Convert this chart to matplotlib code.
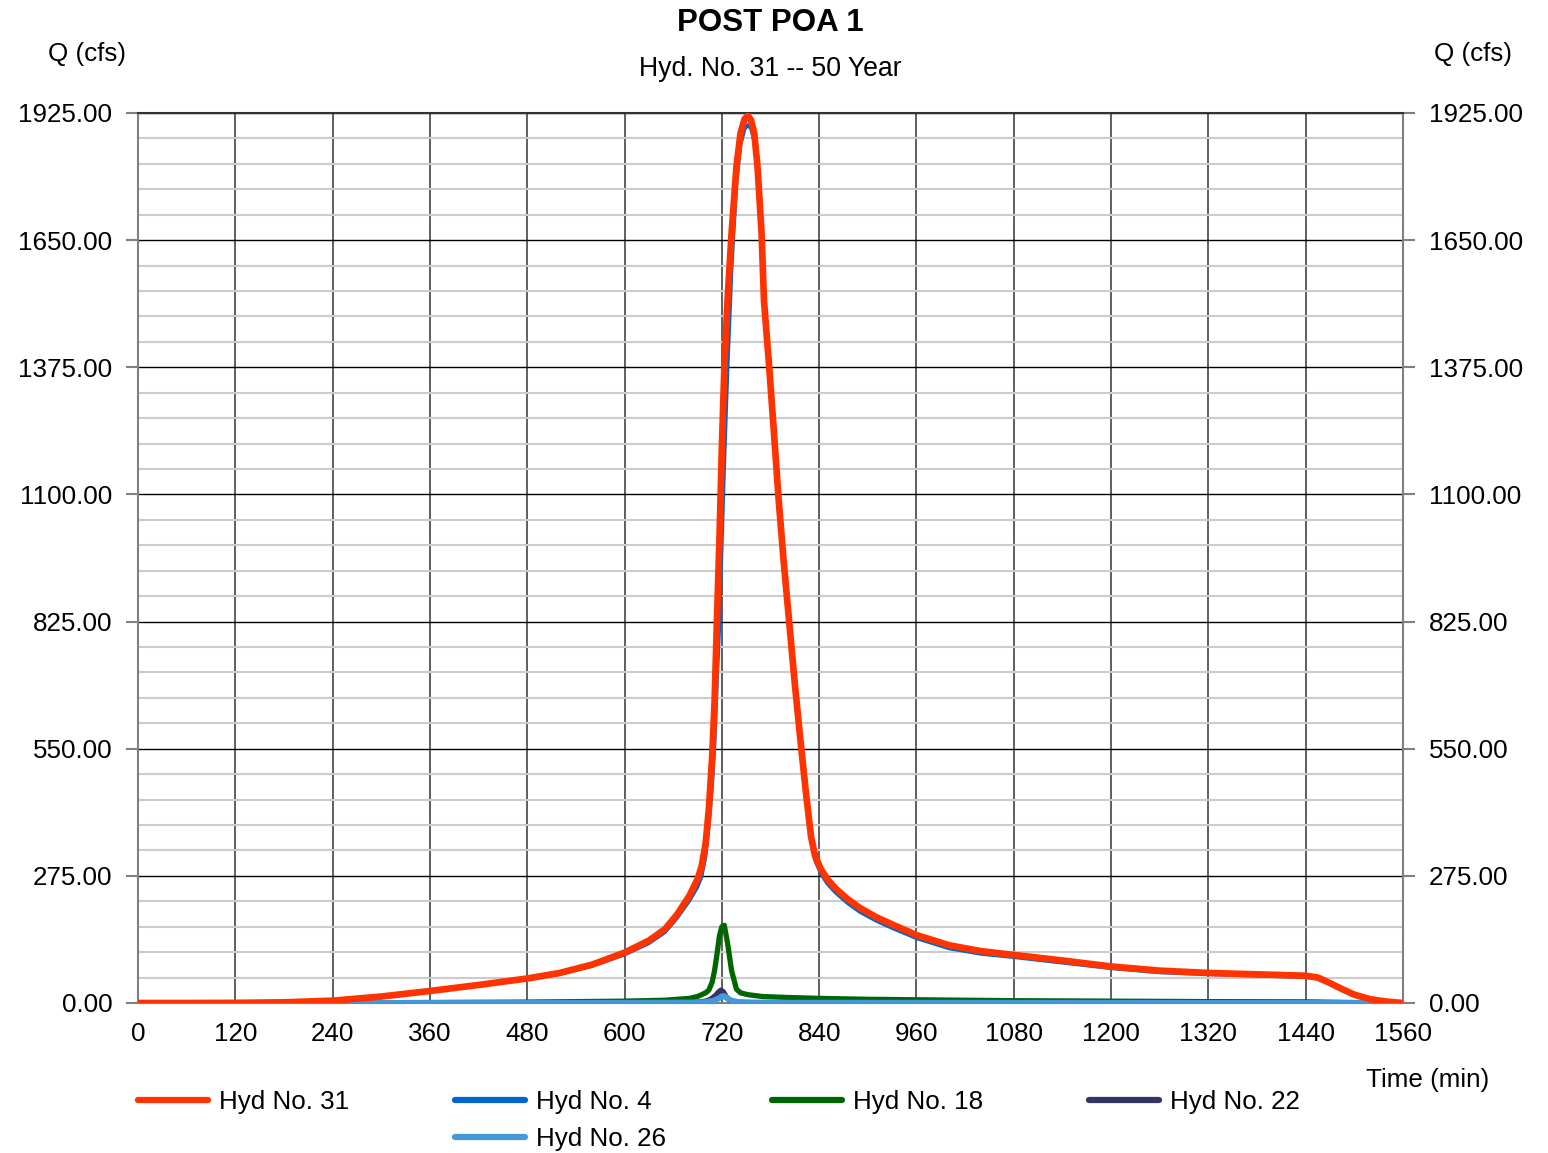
import numpy as np
import matplotlib
matplotlib.use("Agg")
import matplotlib.pyplot as plt
from matplotlib.ticker import MultipleLocator
from matplotlib.lines import Line2D

plt.rcParams["font.family"] = ["Liberation Sans", "DejaVu Sans"]

# time (min) for Hyd No. 31 and Hyd No. 4
t_main = [0, 60, 120, 180, 240, 300, 360, 420, 480, 520, 560, 600, 630, 650, 665,
          680, 690, 695, 700, 704, 708, 711, 714, 717, 720, 723, 727, 732, 738, 743,
          748, 752, 756, 760, 764, 769, 772, 778, 784, 790, 796, 803, 810, 818, 824,
          830, 835, 842, 850, 860, 875, 890, 910, 930, 960, 1000, 1040, 1080, 1140,
          1200, 1260, 1320, 1380, 1440, 1455, 1470, 1485, 1500, 1520, 1540, 1560]

# Hyd No. 31 (cfs)
q_31 = [0, 0, 0.3, 1.5, 5, 14, 26, 39, 53, 65, 83, 109, 135, 160, 192,
        232, 268, 295, 345, 420, 530, 650, 830, 1000, 1200, 1370, 1520, 1665, 1809, 1881,
        1912, 1919, 1910, 1881, 1809, 1665, 1518, 1385, 1240, 1090, 960, 825, 690, 550, 450,
        360, 318, 290, 268, 248, 225, 206, 186, 170, 147, 125, 112, 104, 92,
        79, 70, 65, 62, 59, 55, 43, 30, 18, 8, 3, 0]

# Hyd No. 4 (cfs)
q_4 = [0, 0, 0.3, 1.5, 4.7, 13.3, 25, 37.5, 51, 62.5, 80, 104.5, 129, 153, 184,
       221, 251, 273, 317, 383, 469, 558, 696, 817, 994, 1165, 1368, 1585, 1774, 1855,
       1890, 1899, 1891, 1863, 1792, 1649, 1503, 1371, 1227, 1077, 948, 813, 679, 539, 440,
       350, 308, 280, 258, 239, 216, 197, 178, 162, 140, 118, 106, 99, 87,
       75, 66, 62, 59, 56, 53, 41, 28, 17, 7, 2.7, 0]

# Hyd No. 18
t_18 = [0, 180, 240, 360, 480, 600, 650, 680, 690, 700, 704, 708, 711, 714, 717,
        720, 723, 727, 732, 738, 743, 752, 770, 800, 840, 900, 960, 1080, 1200, 1320,
        1440, 1500, 1560]
q_18 = [0, 0, 0.3, 1, 2, 4, 6, 10, 14, 22, 28, 45, 70, 105, 145,
        165, 168, 130, 70, 30, 22, 18, 14, 12, 10, 8, 7, 5, 4, 3,
        2.5, 1, 0]

# Hyd No. 22
t_22 = [0, 600, 690, 700, 706, 712, 716, 719, 722, 726, 730, 736, 745, 760, 800, 1560]
q_22 = [0, 0.5, 2, 4, 8, 16, 24, 28, 24, 12, 5, 2, 1, 0.5, 0.2, 0]

# Hyd No. 26
t_26 = [0, 600, 690, 700, 710, 716, 720, 723, 727, 732, 740, 760, 800, 1560]
q_26 = [0, 0.3, 1, 2, 5, 10, 14, 15, 10, 5, 2, 1, 0.5, 0]

x_ticks = list(range(0, 1561, 120))
y_ticks = [0, 275, 550, 825, 1100, 1375, 1650, 1925]

fig = plt.figure(figsize=(15.48, 11.53), dpi=100)
ax = fig.add_axes([138 / 1548, 150 / 1153, 1265 / 1548, 890 / 1153])

l4, = ax.plot(t_main, q_4, color="#0066cc", lw=2.6, zorder=3, solid_capstyle="round")
l18, = ax.plot(t_18, q_18, color="#006600", lw=3.8, zorder=4, solid_capstyle="round")
l22, = ax.plot(t_22, q_22, color="#333366", lw=3.8, zorder=5, solid_capstyle="round")
l26, = ax.plot(t_26, q_26, color="#4499dd", lw=4.3, zorder=6, solid_capstyle="round")
l31, = ax.plot(t_main, q_31, color="#ff3300", lw=4.8, zorder=7, solid_capstyle="round")

ax.set_xlim(0, 1560)
ax.set_ylim(0, 1925)
ax.set_xticks(x_ticks)
ax.set_yticks(y_ticks)
ax.set_yticklabels([f"{v:.2f}" for v in y_ticks])
ax.yaxis.set_minor_locator(MultipleLocator(55))

ax.grid(which="minor", axis="y", color="#cccccc", lw=1.5, zorder=0)
ax.grid(which="major", axis="y", color="black", lw=1.0, zorder=1)
ax.grid(which="major", axis="x", color="#444444", lw=1.2, zorder=1)
ax.set_axisbelow(True)

for s in ax.spines.values():
    s.set_color("#808080")
    s.set_linewidth(1.5)
ax.spines["top"].set_color("#333333")

ax.tick_params(axis="y", which="major", left=True, right=True, labelleft=True,
               labelright=True, length=8.5, width=1.5, color="#808080",
               labelsize=18.7, pad=10)
ax.tick_params(axis="y", which="minor", length=0)
ax.tick_params(axis="x", length=0, labelsize=18.7, pad=13.5)

fig.text(770 / 1548, 1 - 23 / 1153, "POST POA 1", ha="center", va="center",
         fontsize=22.5, fontweight="bold")
fig.text(770 / 1548, 1 - 69 / 1153, "Hyd. No. 31 -- 50 Year", ha="center",
         va="center", fontsize=19.2)
fig.text(87 / 1548, 1 - 54 / 1153, "Q (cfs)", ha="center", va="center", fontsize=18.7)
fig.text(1473 / 1548, 1 - 54 / 1153, "Q (cfs)", ha="center", va="center", fontsize=18.7)
fig.text(1428 / 1548, 1 - 1080 / 1153, "Time (min)", ha="center", va="center",
         fontsize=18.7)

blank = Line2D([], [], alpha=0)
handles = [l31, blank, l4, l26, l18, blank, l22, blank]
labels = ["Hyd No. 31", "", "Hyd No. 4", "Hyd No. 26", "Hyd No. 18", "", "Hyd No. 22", ""]
leg = fig.legend(handles, labels, ncol=4, loc="upper left",
                 bbox_to_anchor=(138 / 1548, 1 - 1090 / 1153), frameon=False,
                 fontsize=18.7, handlelength=2.7, handletextpad=0.4,
                 columnspacing=4.1, labelspacing=0.5, borderpad=0, borderaxespad=0)
for h in leg.legend_handles:
    h.set_linewidth(4.5)

fig.savefig("out.png", dpi=100)
